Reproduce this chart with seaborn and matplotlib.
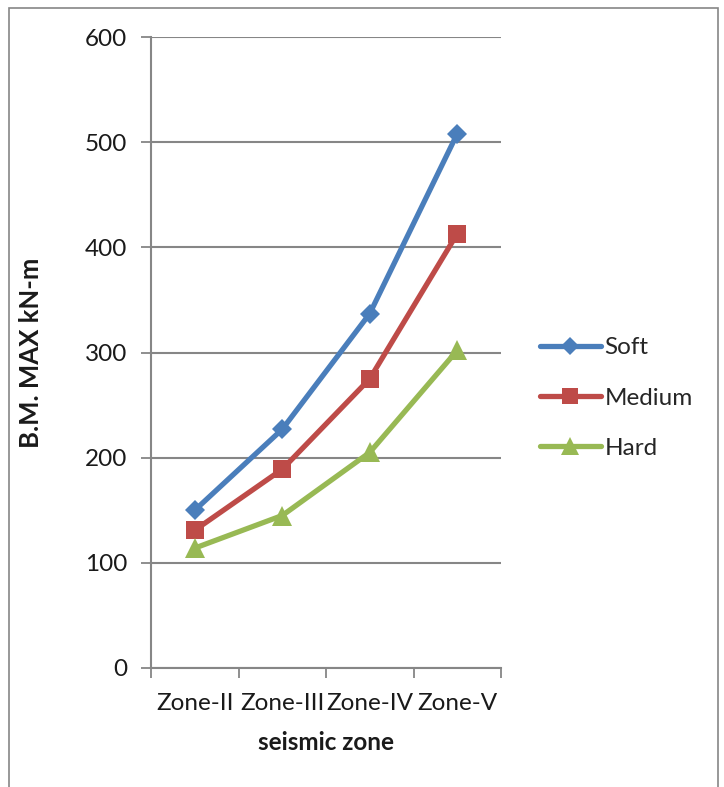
import matplotlib
matplotlib.use("Agg")
import matplotlib.pyplot as plt
from matplotlib.patches import Rectangle
import seaborn as sns
import pandas as pd

zones = ["Zone-II", "Zone-III", "Zone-IV", "Zone-V"]
soft = [150, 227, 337, 508]
medium = [131, 189, 275, 413]
hard = [114, 145, 205, 302]
series_names = ["Soft", "Medium", "Hard"]
y_ticks = [0, 100, 200, 300, 400, 500, 600]

sns.set_theme(style="white")
plt.rcParams["font.family"] = ["Lato", "DejaVu Sans"]

df = pd.DataFrame({
    "zone": zones * 3,
    "bm": soft + medium + hard,
    "soil": [s for s in series_names for _ in zones],
})

colors = {"Soft": "#4A7EBB", "Medium": "#BE4B48", "Hard": "#98B954"}
markers = {"Soft": "D", "Medium": "s", "Hard": "^"}
msize = {"Soft": 10, "Medium": 13, "Hard": 14}
text_color = "#1a1a1a"
fs = 17.5

fig = plt.figure(figsize=(7.24, 7.87), dpi=100)
ax = fig.add_axes([151 / 724, 1 - 668 / 787, 350 / 724, 631 / 787])

sns.lineplot(data=df, x="zone", y="bm", hue="soil", style="soil",
             palette=colors, markers=markers, dashes=False,
             linewidth=3.8, ax=ax, legend=False, sort=False)
# marker sizes per series
for line, name in zip(ax.get_lines(), series_names):
    line.set_markersize(msize[name])
    line.set_markeredgewidth(0)

ax.set_xlim(-0.5, 3.5)
ax.set_ylim(0, 600)
ax.set_yticks(y_ticks)
ax.set_xticks(range(len(zones)))
ax.set_xticklabels(zones)
ax.set_xticks([-0.5, 0.5, 1.5, 2.5, 3.5], minor=True)
ax.tick_params(axis="x", which="major", length=0, pad=18, labelsize=fs, labelcolor=text_color)
ax.tick_params(axis="x", which="minor", length=7, width=1.3, color="#868686", direction="out", bottom=True)
ax.tick_params(axis="y", which="major", length=7, width=1.3, color="#868686", direction="out", left=True,
               labelsize=fs, labelcolor=text_color, pad=10)
ax.yaxis.grid(True, color="#868686", linewidth=1.5)
ax.xaxis.grid(False)
for side in ["top", "right"]:
    ax.spines[side].set_visible(False)
for side in ["left", "bottom"]:
    ax.spines[side].set_color("#868686")
    ax.spines[side].set_linewidth(1.5)

ax.set_xlabel("seismic zone", fontsize=fs, fontweight="bold", labelpad=12, color=text_color)
ax.set_ylabel("B.M. MAX kN-m", fontsize=fs + 1, fontweight="bold", labelpad=30, color=text_color)

handles = [plt.Line2D([], [], color=colors[n], marker=markers[n], markersize=msize[n] * 0.9,
                      markeredgewidth=0, linewidth=3.8) for n in series_names]
fig.legend(handles, series_names, loc="center left", bbox_to_anchor=(518 / 724, 1 - 398 / 787),
           frameon=False, fontsize=fs, handlelength=2.5, handletextpad=0.15, labelspacing=1.2)

fig.patches.append(Rectangle((9 / 724, -0.02), 709 / 724, 1.02 - 8 / 787, transform=fig.transFigure,
                             fill=False, edgecolor="#868686", linewidth=1.2))

fig.savefig("out.png", dpi=100)
